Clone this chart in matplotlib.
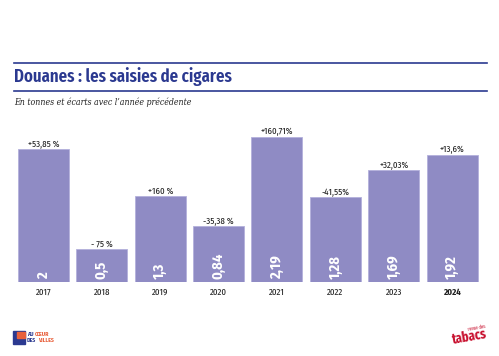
import matplotlib.pyplot as plt

# data
years = ['2017', '2018', '2019', '2020', '2021', '2022', '2023', '2024']
tonnes = [2, 0.5, 1.3, 0.84, 2.19, 1.28, 1.69, 1.92]
value_labels = ['2', '0,5', '1,3', '0,84', '2,19', '1,28', '1,69', '1,92']
change_labels = ['+53,85 %', '- 75 %', '+160 %', '-35,38 %', '+160,71%', '-41,55%', '+32,03%', '+13,6%']

cond = ['Fira Sans Condensed', 'DejaVu Sans']   # condensed sans, falls back to DejaVu
xcond = ['Fira Sans Extra Condensed', 'DejaVu Sans']

bar_color = '#8f8bc4'
title_color = '#2b3990'
orange = '#e8603c'

fig = plt.figure(figsize=(4.99, 3.56), dpi=100)
ax = fig.add_axes([0.0287, 0.2079, 0.9357, 0.466])

x = range(len(years))
bars = ax.bar(x, tonnes, width=0.874, color=bar_color, edgecolor='#b3b0dc', linewidth=0.6)
ax.set_xlim(-0.5, len(years) - 0.5)
ax.set_ylim(0, 2.5)

for i, b in enumerate(bars):
    h = b.get_height()
    ax.text(b.get_x() + b.get_width() / 2, h + 0.005, change_labels[i], ha='center', va='bottom',
            fontsize=7, family=xcond, stretch='condensed', color='#222222')
    ax.text(b.get_x() + b.get_width() / 2, 0.05, value_labels[i], ha='center', va='bottom',
            rotation=90, fontsize=10.5, fontweight='bold', family=cond, stretch='condensed', color='white')

ax.set_xticks(list(x))
ax.set_xticklabels(years, family=xcond, stretch='condensed', fontsize=7, color='#222222')
ax.get_xticklabels()[-1].set_fontweight('bold')
ax.tick_params(axis='x', length=0, pad=4)
ax.set_yticks([])
for s in ax.spines.values():
    s.set_visible(False)

# header
fig.add_artist(plt.Line2D([14 / 499, 487 / 499], [1 - 63 / 356, 1 - 63 / 356], color=title_color, lw=1.2))
fig.add_artist(plt.Line2D([14 / 499, 487 / 499], [1 - 91 / 356, 1 - 91 / 356], color=title_color, lw=1.2))
fig.text(14 / 499, 1 - 77 / 356, 'Douanes : les saisies de cigares', family=xcond, stretch='condensed',
         fontweight='semibold', fontsize=13.2, color=title_color, va='center')
fig.text(14 / 499, 1 - 102 / 356, "En tonnes et écarts avec l’année précédente", family='DejaVu Serif',
         stretch='condensed', style='italic', fontsize=6.3, color='#222222', va='center')

# footer logos (as text)
fig.add_artist(plt.Rectangle((13 / 499, 1 - 344 / 356), 12 / 499, 13 / 356, color=title_color))
fig.add_artist(plt.Rectangle((17 / 499, 1 - 338 / 356), 8 / 499, 6 / 356, color=orange))
fig.text(27 / 499, 1 - 334 / 356, 'AU', fontsize=4.2, fontweight='bold', family=cond,
         stretch='condensed', color=title_color, va='center')
fig.text(35 / 499, 1 - 334 / 356, 'CŒUR', fontsize=4.2, fontweight='bold', family=cond,
         stretch='condensed', color=orange, va='center')
fig.text(27 / 499, 1 - 340 / 356, 'DES', fontsize=4.2, fontweight='bold', family=cond,
         stretch='condensed', color=title_color, va='center')
fig.text(38 / 499, 1 - 340 / 356, 'VILLES', fontsize=4.2, fontweight='bold', family=cond,
         stretch='condensed', color=orange, va='center')
fig.text(488 / 499, 1 - 337 / 356, 'tabacs', fontsize=10, fontweight='bold', family=xcond,
         stretch='condensed', color='#c8102e', ha='right', va='center', rotation=10)
fig.text(486 / 499, 1 - 328 / 356, 'revue des', fontsize=3.5, family=xcond,
         stretch='condensed', color='#c8102e', ha='right', va='center', rotation=10)

fig.savefig('out.png', dpi=100)
